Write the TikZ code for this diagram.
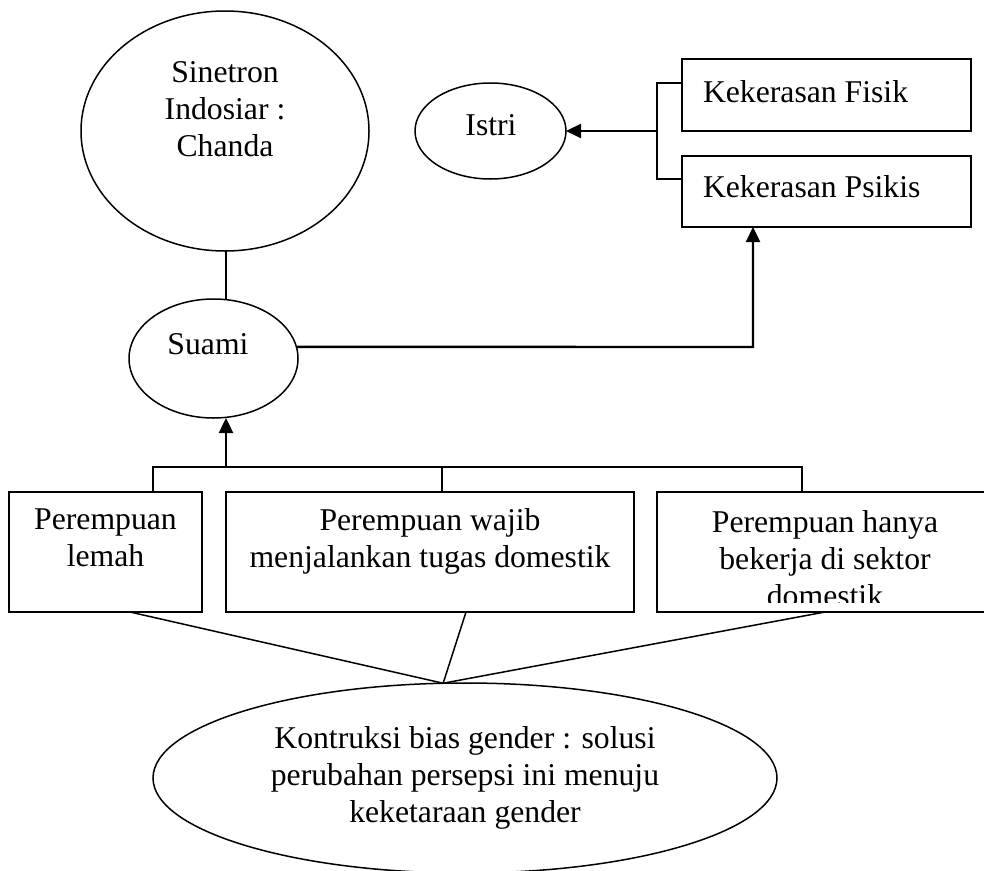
\documentclass[tikz,border=0pt]{standalone}
\usepackage{fontspec}
\setmainfont{Liberation Serif}
\usetikzlibrary{arrows.meta,shapes.geometric,calc}
\begin{document}
\begin{tikzpicture}[x=1pt,y=-1pt,
  shape line/.style={draw=black,line width=1.5pt},
  ellnode/.style={shape line,ellipse,inner sep=0pt,outer sep=0pt},
  boxnode/.style={shape line,rectangle,inner sep=0pt,outer sep=0pt,anchor=north west},
  lbl/.style={font=\fontsize{31.7}{37}\selectfont,inner sep=0pt,outer sep=0pt,align=center},
  conn/.style={line width=1.5pt},
  arr/.style={line width=2.4pt,-{Triangle[length=15pt,width=14pt]}}]
\useasboundingbox (0,0) rectangle (984,870);
% shapes
\node[ellnode,minimum width=288pt,minimum height=240pt] (sinetron) at (225,131) {};
\node[ellnode,minimum width=169pt,minimum height=119pt] (suami) at (213.5,358.5) {};
\node[ellnode,minimum width=151pt,minimum height=96pt] (istri) at (490.5,131) {};
\node[ellnode,minimum width=624pt,minimum height=190pt] (kontruksi) at (465,778) {};
\node[boxnode,minimum width=289pt,minimum height=72pt] (fisik) at (682,59) {};
\node[boxnode,minimum width=289pt,minimum height=71pt] (psikis) at (682,156) {};
\node[boxnode,minimum width=193pt,minimum height=120pt] (box1) at (9,492) {};
\node[boxnode,minimum width=408pt,minimum height=120pt] (box2) at (226,492) {};
\node[boxnode,minimum width=336pt,minimum height=120pt] (box3) at (657,492) {};
% texts
\node[lbl,anchor=north] (tsinetron) at (225,61.3) {Sinetron\\Indosiar :\\Chanda};
\node[lbl,anchor=base] (tsuami) at (208,354) {Suami};
\node[lbl,anchor=base] (tistri) at (491,135) {Istri};
\node[lbl,anchor=base west] (tfisik) at (703,102) {Kekerasan Fisik};
\node[lbl,anchor=base west] (tpsikis) at (703,197) {Kekerasan Psikis};
\node[lbl,anchor=north] (tbox1) at (105.5,509) {Perempuan\\lemah};
\node[lbl,anchor=north] (tbox2) at (430,508.3) {Perempuan wajib\\menjalankan tugas domestik};
\begin{scope}
  \clip (657,492) rectangle (993,602);
  \node[lbl,anchor=north] (tbox3) at (825,510.3) {Perempuan hanya\\bekerja di sektor\\domestik};
\end{scope}
\node[lbl,anchor=north] (tkontruksi) at (465,726.3) {Kontruksi bias gender : solusi\\perubahan persepsi ini menuju\\keketaraan gender};
% connectors: top
\draw[conn] (sinetron.south -| 226,0) -- (226,299.5);
\coordinate (tb1) at (657,83);
\coordinate (tb2) at (657,179);
\coordinate (tbm) at (657,131);
\draw[conn] (fisik.west |- tb1) -- (tb1) -- (tb2) -- (psikis.west |- tb2);
\draw[arr] (tbm) -- (istri.east);
\coordinate (corner) at (753,347);
\draw[arr] (suami.8) -- (corner) -- (corner |- psikis.south);
% connectors: bottom bracket
\coordinate (bl) at (153,467);
\coordinate (bm) at (442,467);
\coordinate (br) at (802,467);
\coordinate (ba) at (226,467);
\draw[conn] (bl |- box1.north) -- (bl) -- (br) -- (br |- box3.north);
\draw[conn] (bm) -- (bm |- box2.north);
\draw[arr] (ba) -- (ba |- suami.south);
% connectors: to bottom ellipse
\coordinate (meet) at (kontruksi.103.6);
\draw[conn] ([xshift=24.5pt]box1.south) -- (meet);
\draw[conn] ([xshift=36pt]box2.south) -- (meet);
\draw[conn] (box3.south) -- (meet);
\end{tikzpicture}
\end{document}
